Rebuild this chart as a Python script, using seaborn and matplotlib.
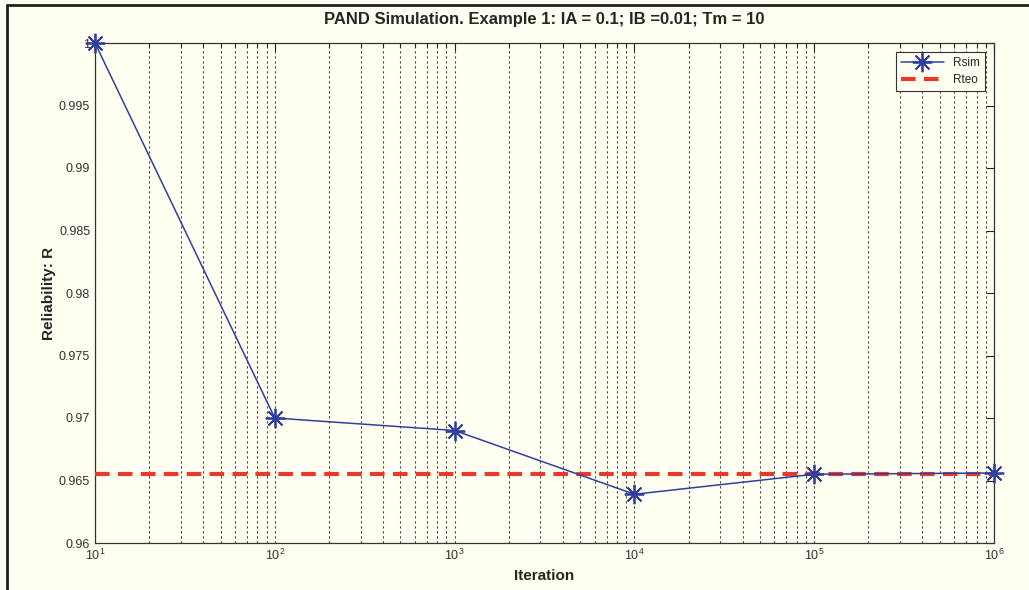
import matplotlib
matplotlib.use("Agg")
import matplotlib.pyplot as plt
import seaborn as sns
import pandas as pd
import numpy as np
from matplotlib.ticker import LogLocator, NullFormatter, FixedLocator
from matplotlib.lines import Line2D

iterations = [10, 100, 1000, 10000, 100000, 1000000]
rsim = [1.0, 0.9700, 0.9690, 0.9639, 0.9655, 0.9656]
rteo_value = 0.96556
rteo = [rteo_value] * len(iterations)
yticks = [0.96, 0.965, 0.97, 0.975, 0.98, 0.985, 0.99, 0.995, 1.0]
ytick_labels = ["0.96", "0.965", "0.97", "0.975", "0.98", "0.985", "0.99", "0.995", "1"]

df = pd.DataFrame({"Iteration": iterations, "Rsim": rsim, "Rteo": rteo})

sns.set_style("white")
plt.rcParams['font.family'] = ['Liberation Sans', 'DejaVu Sans']

bg = "#fffff2"
fig = plt.figure(figsize=(10.29, 5.90), dpi=100, facecolor=bg)
ax = fig.add_axes([95/1029, 1 - 543/590, (994-95)/1029, (543-43)/590])
ax.set_facecolor(bg)

ax.set_xscale("log")
ax.set_xlim(10, 1e6)
ax.set_ylim(0.96, 1.0)

# vertical grid (major + minor), dotted
ax.xaxis.set_major_locator(LogLocator(base=10, numticks=10))
ax.xaxis.set_minor_locator(LogLocator(base=10, subs=np.arange(2, 10), numticks=20))
ax.xaxis.set_minor_formatter(NullFormatter())
ax.grid(True, which="both", axis="x", color="#444444", linestyle=(0, (2, 2.5)), linewidth=0.8)
ax.grid(False, axis="y")

sns.lineplot(data=df, x="Iteration", y="Rteo", ax=ax, color="#e8392a", linestyle=(0, (3.5, 2)),
             linewidth=3, zorder=3)
sns.lineplot(data=df, x="Iteration", y="Rsim", ax=ax, color="#2f3fa0", linewidth=1.1,
             marker=(8, 2, 0), markersize=14, markeredgewidth=1.3, markeredgecolor="#2f3fa0",
             zorder=4, clip_on=False)

ax.yaxis.set_major_locator(FixedLocator(yticks))
ax.set_yticklabels(ytick_labels)

ax.tick_params(axis="both", which="both", direction="in", top=True, right=True,
               labelsize=9, colors="#222222", labelcolor="#333333")
ax.tick_params(axis="both", which="major", length=6, width=0.8)
ax.tick_params(axis="x", which="minor", length=3, width=0.8)
for s in ax.spines.values():
    s.set_color("#333333")
    s.set_linewidth(0.9)

ax.set_title("PAND Simulation. Example 1: IA = 0.1; IB =0.01; Tm = 10",
             fontsize=12, fontweight="bold", pad=14)
ax.set_xlabel("Iteration", fontsize=11, fontweight="bold", labelpad=4)
ax.set_ylabel("Reliability: R", fontsize=11, fontweight="bold", labelpad=2)

handles = [
    Line2D([], [], color="#2f3fa0", linewidth=1.1, marker=(8, 2, 0), markersize=14,
           markeredgewidth=1.3),
    Line2D([], [], color="#e8392a", linestyle=(0, (3.5, 2)), linewidth=3),
]
leg = ax.legend(handles, ["Rsim", "Rteo"], loc="upper right", fontsize=8.5,
                frameon=True, fancybox=False, edgecolor="#333333", framealpha=1,
                borderaxespad=0.8, handlelength=3.6, labelspacing=0.4)
leg.get_frame().set_facecolor(bg)
leg.get_frame().set_linewidth(0.8)

# figure frame (top and left edges)
fig.add_artist(Line2D([7/1029, 7/1029], [0, 1 - 5/590], transform=fig.transFigure,
                      color="#222222", linewidth=2))
fig.add_artist(Line2D([7/1029, 1], [1 - 5/590, 1 - 5/590], transform=fig.transFigure,
                      color="#222222", linewidth=2))

fig.savefig("out.png", dpi=100, facecolor=bg)
